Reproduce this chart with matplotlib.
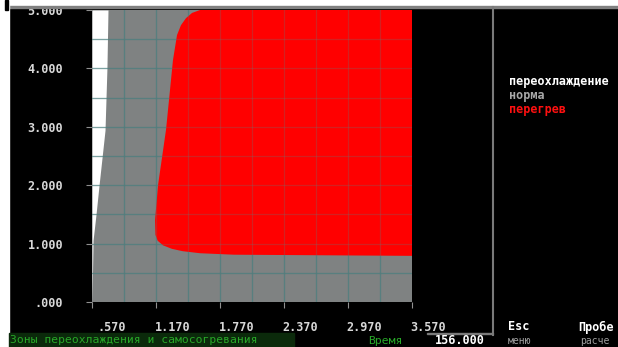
import matplotlib
matplotlib.use("Agg")
import matplotlib.pyplot as plt
from matplotlib.patches import Rectangle
from matplotlib.transforms import ScaledTranslation

# axis ticks
x_ticks = [0.57, 1.17, 1.77, 2.37, 2.97, 3.57]
y_ticks = [0, 1, 2, 3, 4, 5]

# boundary of the supercooling zone (white), left edge of the plot to this curve
white_y = [0.0, 1.06, 1.49, 2.00, 2.94, 4.00, 5.00]
white_x = [0.57, 0.58, 0.607, 0.636, 0.692, 0.71, 0.72]

# outline of the overheating zone (red)
red_x = [3.57, 1.583, 1.508, 1.451, 1.404, 1.367, 1.329, 1.292, 1.264, 1.189,
         1.161, 1.165, 1.185, 1.236, 1.320, 1.420, 1.583, 1.90, 3.57]
red_y = [5.00, 5.00, 4.95, 4.86, 4.74, 4.57, 4.14, 3.46, 2.95, 2.00,
         1.40, 1.15, 1.05, 0.97, 0.91, 0.87, 0.835, 0.81, 0.79]

legend_labels = ["переохлаждение", "норма", "перегрев"]
legend_colors = ["white", "#a8a8a8", "#ff1010"]

status_text = "Зоны переохлаждения и самосогревания"
time_label = "Время"
time_value = 156.0

mono = "DejaVu Sans Mono"
W, H = 618, 347

fig = plt.figure(figsize=(W / 100, H / 100), dpi=100, facecolor="black")

def px(x0, y0, w, h, **kw):
    # rectangle in pixel units measured from the top-left corner
    fig.patches.append(Rectangle((x0 / W, 1 - (y0 + h) / H), w / W, h / H,
                                 transform=fig.transFigure, figure=fig, **kw))

# window frame
px(0, 0, W, 6, color="white", zorder=0)
px(0, 6, W, 1.5, color="#808080", zorder=0)
px(0, 0, 9, H, color="white", zorder=0)
px(5, 0, 3, 10, color="black", zorder=1)

ax = fig.add_axes([92 / W, 45 / H, 320 / W, 292 / H])
ax.set_facecolor("#7f8282")
ax.set_xlim(0.57, 3.57)
ax.set_ylim(0, 5)
for s in ax.spines.values():
    s.set_visible(False)

ax.fill_betweenx(white_y, 0.57, white_x, color="white", lw=0, zorder=1)
ax.fill(red_x, red_y, color="#ff0000", lw=0, zorder=2)

# grid every 0.3 along x and 0.5 along y: clear on grey, faint on the red zone
gx = [0.57 + 0.3 * i for i in range(1, 10)]
gy = [0.5 * i for i in range(1, 10)]
for v in gx:
    ax.axvline(v, color="#2f8a8a", lw=0.9, alpha=0.6, zorder=1.5)
    ax.axvline(v, color="#707070", lw=0.9, alpha=0.3, zorder=3)
for v in gy:
    ax.axhline(v, color="#2f8a8a", lw=0.9, alpha=0.6, zorder=1.5)
    ax.axhline(v, color="#707070", lw=0.9, alpha=0.3, zorder=3)

ax.set_xticks(x_ticks)
ax.set_xticklabels([f"{v:.3f}".lstrip("0") for v in x_ticks])
ax.set_yticks(y_ticks)
ax.set_yticklabels([f"{v:.3f}".lstrip("0") for v in y_ticks])
ax.tick_params(axis="both", colors="#909090", length=4, width=0.8,
               labelcolor="#d8d8d8", labelsize=8.5)
ax.tick_params(axis="y", pad=16.8)
ax.tick_params(axis="x", pad=10)
for lab in ax.get_xticklabels() + ax.get_yticklabels():
    lab.set_family(mono)
    lab.set_weight("bold")
for lab in ax.get_xticklabels():
    lab.set_ha("right")
    lab.set_transform(lab.get_transform() + ScaledTranslation(0.34, 0, fig.dpi_scale_trans))

# right panel
fig.add_artist(plt.Line2D([493 / W, 493 / W], [1 - 7 / H, 1 - 335 / H],
                          transform=fig.transFigure, color="#7a7a7a", lw=1.5))
for i, (lab, col) in enumerate(zip(legend_labels, legend_colors)):
    fig.text(509 / W, 1 - (82 + 13.5 * i) / H, lab, color=col, family=mono,
             weight="bold", fontsize=8.5, va="center", ha="left")

fig.text(508 / W, 1 - 327 / H, "Esc", color="white", family=mono, weight="bold",
         fontsize=8.5, va="center")
fig.text(578 / W, 1 - 327 / H, "Пробе", color="white", family=mono, weight="bold",
         fontsize=8.5, va="center")
fig.text(508 / W, 1 - 341 / H, "меню", color="#a0a0a0", family=mono,
         fontsize=7, va="center")
fig.text(580 / W, 1 - 341 / H, "расче", color="#a0a0a0", family=mono,
         fontsize=7, va="center")

# status line
px(9, 333, 285, 14, color="#0b2a0b", zorder=0)
fig.text(10 / W, 1 - 340 / H, status_text, color="#28a828", family=mono,
         fontsize=8.2, va="center", ha="left")
fig.text(368 / W, 1 - 341 / H, time_label, color="#28a828", family=mono,
         fontsize=8.2, va="center", ha="left")
px(427, 333, 66, 1, color="#7a7a7a", zorder=0)
fig.text(485 / W, 1 - 340 / H, f"{time_value:.3f}", color="white", family=mono,
         weight="bold", fontsize=8.5, va="center", ha="right")

fig.savefig("out.png", dpi=100, facecolor="black")
